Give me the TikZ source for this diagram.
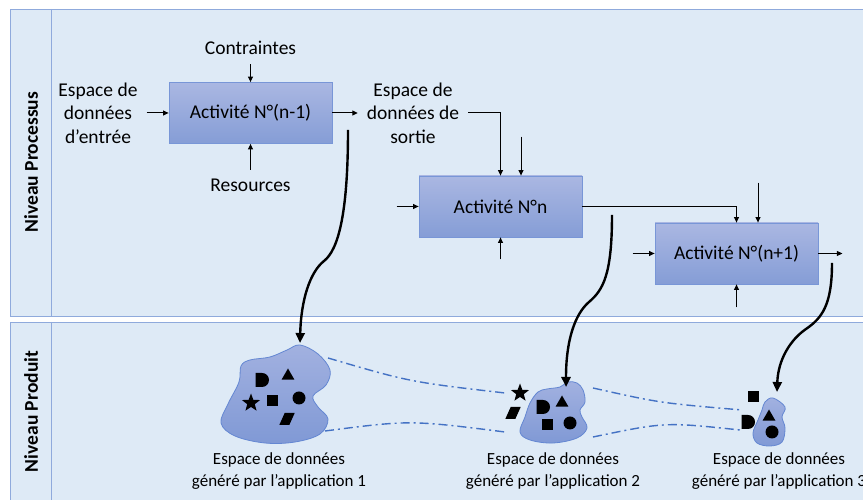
\documentclass[tikz,border=0pt]{standalone}
\usepackage{fontspec}
\setmainfont{Carlito}
\usepackage{tikz}
\usetikzlibrary{positioning, arrows.meta, shapes.geometric}
\definecolor{lane}{RGB}{222,234,246}
\definecolor{laneline}{RGB}{143,170,220}
\definecolor{acttop}{RGB}{170,183,226}
\definecolor{actbot}{RGB}{133,157,214}
\definecolor{actline}{RGB}{120,150,215}
\definecolor{blobtop}{RGB}{162,177,224}
\definecolor{blobbot}{RGB}{128,153,213}
\definecolor{blobline}{RGB}{100,135,210}
\definecolor{link}{RGB}{68,114,196}

\begin{document}
\begin{tikzpicture}[
  x=1pt, y=1pt,
  lane/.style={draw=laneline, fill=lane, line width=0.9pt},
  actbox/.style={draw=actline, top color=acttop, bottom color=actbot,
                 minimum width=163pt, minimum height=61pt, inner sep=0pt,
                 font=\fontsize{19.5}{23.5}\selectfont, line width=0.8pt},
  txt/.style={font=\fontsize{19.5}{23.5}\selectfont, align=center,
              inner sep=0pt, outer sep=9pt},
  lbl/.style={font=\fontsize{17}{22}\selectfont, align=center, inner sep=0pt},
  side/.style={font=\bfseries\fontsize{19.5}{23.5}\selectfont, rotate=90, inner sep=0pt},
  arr/.style={-{Triangle[length=5.5pt, width=5pt]}, line width=1pt},
  bigarr/.style={-{Triangle[length=10pt, width=9pt]}, line width=2.4pt},
  blob/.style={draw=blobline, top color=blobtop, bottom color=blobbot, line width=0.8pt},
  trace/.style={draw=link, line width=1.4pt, dash pattern=on 9pt off 4pt on 2pt off 4pt},
  sqr/.style={fill, minimum size=11pt, inner sep=0pt},
  dot/.style={circle, fill, minimum size=13pt, inner sep=0pt},
  tri/.style={regular polygon, regular polygon sides=3, fill, minimum size=15pt, inner sep=0pt},
  starsym/.style={star, star points=5, star point ratio=2.4, fill, minimum size=19pt, inner sep=0pt},
  para/.style={fill, minimum width=10pt, minimum height=12pt, inner sep=0pt,
               xslant=0.45, transform shape},
]
  \useasboundingbox (0,0) rectangle (863,500);

  % lanes
  \draw[lane] (10.5,491) rectangle (880,184);
  \draw[laneline, line width=0.9pt] (51,491) -- (51,184);
  \draw[lane] (10.5,178) rectangle (880,-20);
  \draw[laneline, line width=0.9pt] (51,178) -- (51,-20);
  \node[side] (lvlproc) at (31,338) {Niveau Processus};
  \node[side] (lvlprod) at (31,88.5) {Niveau Produit};

  % process level
  \node[actbox] (act1) at (250.5,387) {Activité N°(n-1)};
  \node[actbox] (actn) at (500.5,293.5) {Activité N°n};
  \node[actbox] (actnn) at (736.5,246.5) {Activité N°(n+1)};

  \node[txt, above=18pt of act1] (contr) {Contraintes};
  \node[txt, below=26pt of act1] (res) {Resources};
  \node[txt] (intxt) at (98,387) {Espace de\\données\\d’entrée};
  \node[txt] (outtxt) at (413,387) {Espace de\\données de\\sortie};

  \draw[arr] (contr) -- (act1);
  \draw[arr] (res) -- (act1);
  \draw[arr] (intxt) -- (act1);
  \draw[arr] (act1) -- (outtxt);
  \draw[arr] (outtxt) -| (actn);

  \coordinate (nctr) at ([shift={(20.5,39)}]actn.north);
  \coordinate[left=22pt of actn] (nin);
  \coordinate[below=22pt of actn] (nres);
  \draw[arr] (nctr) -- (nctr |- actn.north);
  \draw[arr] (nin) -- (actn);
  \draw[arr] (nres) -- (actn);
  \draw[arr] (actn) -| (actnn);

  \coordinate (nnctr) at ([shift={(21.5,40)}]actnn.north);
  \coordinate[left=22pt of actnn] (nnin);
  \coordinate[right=24pt of actnn] (nnout);
  \coordinate[below=23pt of actnn] (nnres);
  \draw[arr] (nnctr) -- (nnctr |- actnn.north);
  \draw[arr] (nnin) -- (actnn);
  \draw[arr] (actnn) -- (nnout);
  \draw[arr] (nnres) -- (actnn);

  % product level
  \draw[blob] plot[smooth cycle, tension=0.6] coordinates {(300,155) (318,146) (330,130)
    (326,115) (313,104) (318,93) (328,81) (320,66) (295,58) (265,57) (235,64) (221,77)
    (228,96) (239,118) (241,134) (250,140) (270,143) (287,150)};
  \draw[blob] plot[smooth cycle, tension=0.6] coordinates {(568,118) (577,117) (583,110)
    (585,98) (580,90) (582,83) (587,72) (577,62) (553,57) (530,60) (520,68) (525,83)
    (530,97) (538,108) (547,111) (560,113)};
  \draw[blob] plot[smooth cycle, tension=0.6] coordinates {(773,102) (785,93) (782,83)
    (785,72) (782,58) (770,54) (757,57) (753,67) (758,80) (762,90) (765,98)};

  \coordinate (b1top) at (300,157);
  \coordinate (b2top) at (566,113);
  \coordinate (b3top) at (777,108);
  \coordinate (b1ne) at (328,142);
  \coordinate (b1se) at (325,69);
  \coordinate (b2nw) at (505,107);
  \coordinate (b2sw) at (505,68);
  \coordinate (b2ne) at (593,112);
  \coordinate (b2se) at (593,63);
  \coordinate (b3nw) at (742,90);
  \coordinate (b3sw) at (740,70);

  \draw[trace] (b1ne) .. controls (410,118) .. (b2nw);
  \draw[trace] (b1se) .. controls (410,80) .. (b2sw);
  \draw[trace] (b2ne) .. controls (660,97) .. (b3nw);
  \draw[trace] (b2se) .. controls (665,78) .. (b3sw);

  % data symbols
  \foreach \x/\y in {262/120, 543/93, 748/78}
    \fill (\x-6.5,\y-7) -- (\x-6.5,\y+7) -- (\x,\y+7) arc[start angle=90, end angle=-90, radius=7] -- cycle;
  \node[tri] (b1tri) at (288,124) {};
  \node[starsym] (b1star) at (251,97) {};
  \node[sqr] (b1sq) at (272,99) {};
  \node[dot] (b1dot) at (299,102) {};
  \node[para] (b1para) at (287,81) {};
  \node[starsym] (b2star) at (520,107) {};
  \node[para] (b2para) at (513,87) {};
  \node[tri] (b2tri) at (562,97) {};
  \node[sqr] (b2sq) at (547,75) {};
  \node[dot] (b2dot) at (570,77) {};
  \node[sqr] (b3sq) at (753,103) {};
  \node[tri] (b3tri) at (769,83) {};
  \node[dot] (b3dot) at (772,68) {};

  % links between levels
  \coordinate (c1) at (348,370);
  \coordinate (c2) at (612,285);
  \coordinate (c3) at (832,237);
  \draw[bigarr] (c1) .. controls (348,285) and (338,250) .. (324,239)
    .. controls (310,228) and (301,200) .. (b1top);
  \draw[bigarr] (c2) .. controls (612,225) and (603,210) .. (589,198)
    .. controls (575,186) and (566,160) .. (b2top);
  \draw[bigarr] (c3) .. controls (832,195) and (822,182) .. (806,171)
    .. controls (790,160) and (778,140) .. (b3top);

  \node[lbl] (lbl1) at (279,28.5) {Espace de données\\généré par l’application 1};
  \node[lbl] (lbl2) at (553,28.5) {Espace de données\\généré par l’application 2};
  \node[lbl] (lbl3) at (779,28.5) {Espace de données\\généré par l’application 3};
\end{tikzpicture}
\end{document}
